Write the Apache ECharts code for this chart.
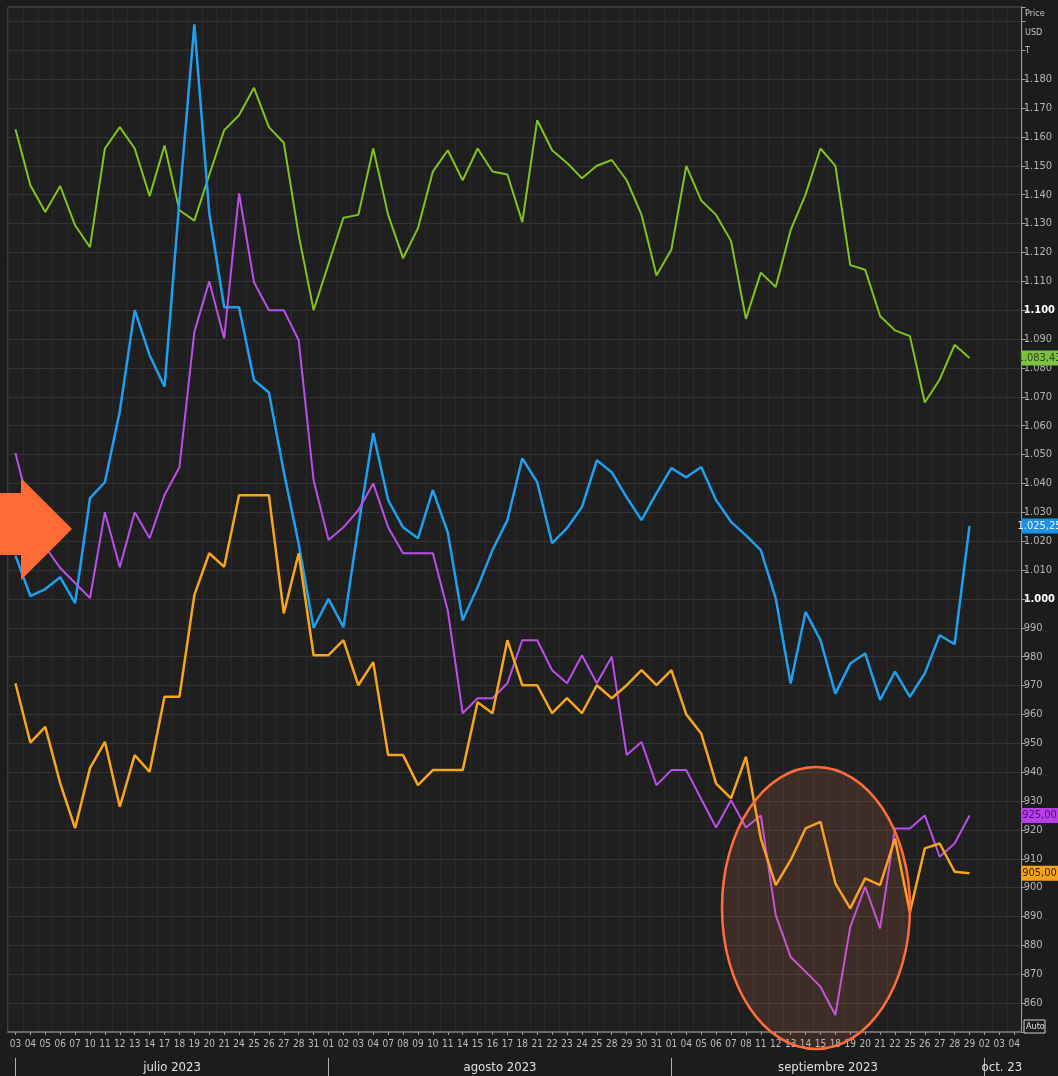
<!DOCTYPE html>
<html><head><meta charset="utf-8">
<script src="https://cdn.jsdelivr.net/npm/echarts@6/dist/echarts.min.js"></script>
<style>html,body{margin:0;padding:0;background:#1c1c1c}#c{width:1058px;height:1076px}</style>
</head><body><div id="c"></div><script>
// ---- categories (trading days) ----
const julDays = ['03','04','05','06','07','10','11','12','13','14','17','18','19','20','21','24','25','26','27','28','31'];
const agoDays = ['01','02','03','04','07','08','09','10','11','14','15','16','17','18','21','22','23','24','25','28','29','30','31'];
const sepDays = ['01','04','05','06','07','08','11','12','13','14','15','18','19','20','21','22','25','26','27','28','29'];
const octDays = ['02','03','04'];
const dates = [].concat(
  julDays.map(d => '2023-07-' + d),
  agoDays.map(d => '2023-08-' + d),
  sepDays.map(d => '2023-09-' + d),
  octDays.map(d => '2023-10-' + d)
);
const monthLabels = {10: 'julio 2023', 32: 'agosto 2023', 54: 'septiembre 2023', 66: 'oct. 23'};
const monthStarts = [0, 21, 44, 65];

// ---- series values ----
const green = [1162.7,1143.3,1134,1143,1129.4,1121.8,1156,1163.4,1156,1139.5,
  1157,1134.6,1131,1146.8,1162.3,1167.5,1177,1163.4,1158,1126,
  1100,1116,1132,1133,1156,1133,1118,1128.4,1148,1155.4,
  1145,1156,1148,1147,1130.5,1165.8,1155.4,1151,1145.7,1150,
  1152,1145,1133,1112,1121,1150,1138,1133,1124,1097,
  1113,1108,1127.7,1140,1156,1150,1115.6,1114,1098,1093,
  1091,1068,1076,1088,1083.43];
const blue = [1015,1001,1003.4,1007.5,998.5,1034.9,1040.4,1065,1100,1084.4,
  1073.5,1138,1199,1133.6,1101,1101,1075.8,1071.5,1044,1019,
  990,1000,990.2,1025,1057.4,1034.2,1024.8,1021,1037.7,1023,
  992.6,1004,1016.9,1027.3,1048.7,1040.4,1019.3,1024.5,1031.8,1048,
  1043.9,1035.2,1027.3,1036.6,1045.3,1042.1,1045.7,1034.2,1026.7,1022,
  1016.9,1000.2,970.7,995.5,985.7,967.2,977.6,981.1,965,974.8,
  966.1,974.2,987.4,984.3,1025.25];
const purple = [1050.5,1030,1018,1010.7,1005.5,1000.3,1030,1011,1030,1021,
  1036,1045.6,1092.4,1110,1090.3,1140.5,1109.7,1100,1100,1089.6,
  1041.1,1020.4,1024.8,1030.7,1040,1024.8,1015.8,1015.8,1015.8,996,
  960.4,965.6,965.6,970.8,985.7,985.7,975.3,970.8,980.5,970.8,
  980,945.9,950.4,935.5,940.7,940.7,930.7,920.8,930.3,920.8,
  925,890.5,876,870.9,865.7,855.9,886.4,900.3,885.9,920.5,
  920.5,925,910.7,915.3,925];
const orange = [970.8,950.2,955.7,936.2,920.6,941.4,950.5,928,945.9,940.1,
  966.1,966.1,1001.3,1015.8,1011.1,1035.9,1035.9,1035.9,995,1015.8,
  980.5,980.5,985.7,970.1,978.1,945.9,945.9,935.5,940.7,940.7,
  940.7,964.2,960.4,985.7,970.1,970.1,960.4,965.6,960.4,970.1,
  965.6,970.1,975.3,970.1,975.3,960,953.4,936,930.9,945.3,
  917,900.9,909.5,920.5,922.8,901.5,892.8,903.2,900.9,917,
  891.5,913.6,915.3,905.5,905];

// ---- axis ticks ----
const yMin = 850, yMax = 1205, yStep = 10, yLabelMin = 860, yLabelMax = 1180;
const boldTicks = [1000, 1100];

function esNum(v, dec) {
  const s = v.toFixed(dec);
  let parts = s.split('.');
  let i = parts[0].replace(/\B(?=(\d{3})+(?!\d))/g, '.');
  return parts[1] ? i + ',' + parts[1] : i;
}

const FONT = "'Liberation Sans Narrow','DejaVu Sans Condensed','Arial Narrow',sans-serif";

const seriesDefs = [
  {name: 'green', data: green, color: '#82c31d', box: '#7cc142', txt: '#2f3f1f', w: 2},
  {name: 'blue', data: blue, color: '#1e9ff0', box: '#1a91e6', txt: '#e8f4ff', w: 2.5},
  {name: 'purple', data: purple, color: '#bb4fea', box: '#b83fe8', txt: '#4a1262', w: 2},
  {name: 'orange', data: orange, color: '#f7a51c', box: '#f5a01a', txt: '#3b2600', w: 2.5}
];

const chart = echarts.init(document.getElementById('c'), null, {renderer: 'canvas'});

const series = seriesDefs.map((s, k) => {
  const last = s.data[s.data.length - 1];
  return {
    name: s.name, type: 'line', data: s.data, symbol: 'none', z: 2 + k,
    lineStyle: {color: s.color, width: s.w}, itemStyle: {color: s.color},
    animation: false,
    markPoint: {
      symbol: 'rect', symbolSize: [37, 15], symbolOffset: [70, 0],
      silent: true, animation: false,
      itemStyle: {color: s.box},
      label: {show: true, formatter: esNum(last, 2), color: s.txt, fontSize: 11, fontFamily: FONT},
      data: [{coord: [dates[s.data.length - 1], last]}]
    }
  };
});

const option = {
  backgroundColor: '#1c1c1c',
  animation: false,
  grid: {left: 8, right: 36, top: 7, bottom: 44, show: true, backgroundColor: '#1f1f1f', borderColor: '#5a5a5a', borderWidth: 1},
  xAxis: [{
    type: 'category', data: dates, boundaryGap: true,
    axisLine: {show: true, lineStyle: {color: '#6a6a6a', width: 2}},
    axisTick: {show: true, alignWithLabel: true, interval: 0, length: 3, lineStyle: {color: '#9a9a9a'}},
    axisLabel: {interval: 0, formatter: v => v.slice(8), color: '#bdbdbd', fontSize: 10, fontFamily: FONT, margin: 7},
    splitLine: {show: true, interval: 0, lineStyle: {color: '#292929', width: 1}}
  }, {
    type: 'category', data: dates, boundaryGap: true, position: 'bottom', offset: 26,
    axisLine: {show: false},
    axisTick: {show: true, alignWithLabel: true, interval: (i) => monthStarts.indexOf(i) >= 0, length: 18, lineStyle: {color: '#b0b0b0', width: 1}},
    axisLabel: {
      interval: 0, margin: 3, fontFamily: FONT, fontSize: 13, color: '#e0e0e0',
      formatter: (v, i) => monthLabels[i] ? (i === 66 ? '{o|' + monthLabels[i] + '}' : '{m|' + monthLabels[i] + '}') : '',
      rich: {
        m: {padding: [0, 0, 0, 15], fontSize: 13, fontFamily: FONT, color: '#e0e0e0'},
        o: {padding: [0, 0, 0, 5], fontSize: 13, fontFamily: FONT, color: '#e0e0e0'}
      }
    },
    splitLine: {show: false}
  }],
  yAxis: {
    type: 'value', position: 'right', min: yMin, max: yMax, interval: yStep,
    axisLine: {show: true, lineStyle: {color: '#a0a0a0', width: 1}},
    axisTick: {show: true, length: 4, lineStyle: {color: '#a0a0a0'}},
    axisLabel: {
      margin: 2, color: '#b5b5b5', fontSize: 11, fontFamily: FONT,
      formatter: v => (v < yLabelMin || v > yLabelMax) ? '' :
        (boldTicks.indexOf(v) >= 0 ? '{b|' + esNum(v, 0) + '}' : esNum(v, 0)),
      rich: {b: {color: '#ffffff', fontWeight: 'bold', fontSize: 11, fontFamily: FONT}}
    },
    splitLine: {show: true, lineStyle: {color: '#343434', width: 1}}
  },
  series: series,
  graphic: [
    {type: 'polygon', z: 100, silent: true,
      shape: {points: [[0, 493], [21, 493], [21, 478], [72, 529], [21, 580], [21, 555], [0, 555]]},
      style: {fill: '#ff6b35'}},
    {type: 'ellipse', z: 100, silent: true,
      shape: {cx: 816, cy: 908, rx: 94, ry: 141},
      style: {fill: 'rgba(255,125,85,0.14)', stroke: '#ff6d3a', lineWidth: 2.5}},
    {type: 'text', x: 1025, y: 9, silent: true, style: {text: 'Price', fill: '#c8c8c8', fontSize: 9, fontFamily: FONT}},
    {type: 'text', x: 1025, y: 28, silent: true, style: {text: 'USD', fill: '#c8c8c8', fontSize: 9, fontFamily: FONT}},
    {type: 'text', x: 1025, y: 46, silent: true, style: {text: 'T', fill: '#c8c8c8', fontSize: 9, fontFamily: FONT}},
    {type: 'rect', x: 1024, y: 1020, silent: true, shape: {width: 21, height: 13},
      style: {fill: '#1c1c1c', stroke: '#cfcfcf', lineWidth: 1}},
    {type: 'text', x: 1026, y: 1022, silent: true, style: {text: 'Auto', fill: '#e0e0e0', fontSize: 9, fontFamily: FONT}}
  ]
};
chart.setOption(option);
</script></body></html>
